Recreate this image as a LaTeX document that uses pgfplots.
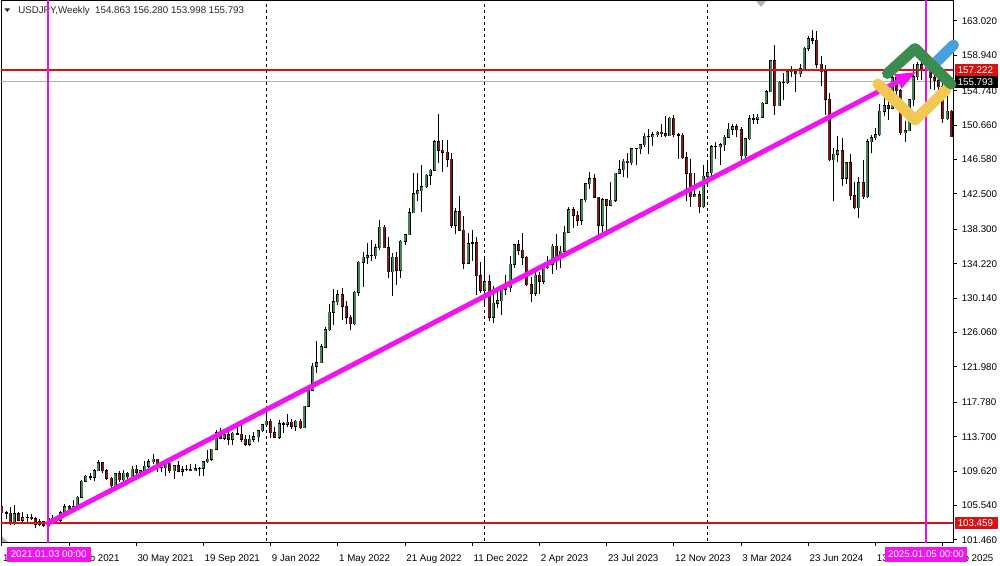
\documentclass[border=0pt]{standalone}
\usepackage{fontspec}
\setmainfont{Liberation Sans}
\usepackage{pgfplots}
\usepackage{pgfplotstable}
\pgfplotsset{compat=1.18}
\usetikzlibrary{arrows.meta}

\definecolor{bull}{RGB}{66,132,84}
\definecolor{bear}{RGB}{122,26,26}
\definecolor{lvl}{RGB}{214,20,20}
\definecolor{vline}{RGB}{225,20,225}
\definecolor{trend}{RGB}{240,20,240}
\definecolor{bid}{RGB}{175,175,175}
\definecolor{lgreen}{RGB}{60,140,78}
\definecolor{lblue}{RGB}{72,160,220}
\definecolor{lyellow}{RGB}{240,200,82}

% weekly USDJPY, k = weeks from 2021.01.03
\pgfplotstableread{
k o h l c
-11 105.40 105.75 104.30 104.70
-10 104.70 104.90 104.00 104.65
-9 104.65 105.35 103.20 103.40
-8 103.40 105.65 103.20 104.60
-7 104.60 104.75 103.70 103.80
-6 103.80 104.75 103.65 104.10
-5 104.10 104.50 103.60 104.15
-4 104.15 104.50 103.80 104.00
-3 104.00 104.20 102.88 103.30
-2 103.30 103.90 103.10 103.60
-1 103.60 103.70 102.95 103.20
0 103.20 104.10 102.60 103.95
1 103.95 104.40 103.50 103.80
2 103.80 104.10 103.30 103.80
3 103.80 104.90 103.50 104.70
4 104.70 105.75 104.60 105.40
5 105.40 105.60 104.40 104.95
6 104.95 106.20 104.90 105.40
7 105.40 106.70 105.20 106.55
8 106.55 108.60 106.50 108.40
9 108.40 109.20 108.30 109.00
10 109.00 109.35 108.60 108.90
11 108.90 109.85 108.40 109.65
12 109.65 110.95 109.60 110.60
13 110.60 110.70 109.40 109.65
14 109.65 109.90 108.60 108.80
15 108.80 108.95 107.50 107.90
16 107.90 109.30 107.50 109.30
17 109.30 109.70 108.35 108.60
18 108.60 109.80 108.35 109.35
19 109.35 109.50 108.55 108.95
20 108.95 110.20 108.70 109.85
21 109.85 110.30 109.20 109.50
22 109.50 109.80 109.20 109.65
23 109.65 110.80 109.60 110.20
24 110.20 111.10 109.70 110.75
25 110.75 111.65 110.45 111.05
26 111.05 111.10 109.50 110.10
27 110.10 110.70 109.55 110.05
28 110.05 110.60 109.05 110.55
29 110.55 110.60 109.35 109.70
30 109.70 110.35 108.70 110.25
31 110.25 110.80 109.50 109.60
32 109.60 110.25 109.10 109.80
33 109.80 110.30 109.60 109.85
34 109.85 110.45 109.60 109.70
35 109.70 110.45 109.60 109.90
36 109.90 110.15 109.10 109.95
37 109.95 110.80 109.10 110.75
38 110.75 112.10 110.60 111.05
39 111.05 112.25 110.80 112.20
40 112.20 114.45 112.10 114.20
41 114.20 114.70 113.40 113.50
42 113.50 114.30 113.30 113.95
43 113.95 114.45 112.70 113.40
44 113.40 114.30 112.70 114.10
45 114.10 114.95 113.90 114.00
46 114.00 115.50 113.10 113.40
47 113.40 113.95 112.55 112.80
48 112.80 113.95 112.55 113.40
49 113.40 114.30 113.10 113.70
50 113.70 114.50 113.10 114.40
51 114.40 115.20 114.30 115.10
52 115.10 116.35 115.00 115.55
53 115.55 115.85 113.50 114.20
54 114.20 114.85 113.50 113.65
55 113.65 115.70 113.45 115.25
56 115.25 115.50 114.15 115.20
57 115.20 116.35 114.85 115.40
58 115.40 115.80 114.60 114.95
59 114.95 115.75 114.40 115.55
60 115.55 115.80 114.65 114.80
61 114.80 117.35 114.80 117.30
62 117.30 119.40 117.30 119.20
63 119.20 122.45 119.10 122.05
64 122.05 125.10 121.30 122.50
65 122.50 124.70 122.40 124.35
66 124.35 126.70 124.30 126.40
67 126.40 129.40 126.30 128.50
68 128.50 131.25 126.95 129.70
69 129.70 131.15 129.35 130.55
70 130.55 131.35 127.50 129.20
71 129.20 129.75 127.05 127.85
72 127.85 128.10 126.35 127.10
73 127.10 130.95 126.90 130.85
74 130.85 134.55 130.40 134.40
75 134.40 135.60 131.50 135.00
76 135.00 136.70 134.25 135.20
77 135.20 137.00 134.50 135.20
78 135.20 136.55 134.75 136.10
79 136.10 139.40 135.90 138.55
80 138.55 138.85 136.50 136.10
81 136.10 137.45 132.50 133.25
82 133.25 135.55 130.40 135.00
83 135.00 135.60 131.75 133.45
84 133.45 137.00 132.55 136.90
85 136.90 137.70 136.40 137.65
86 137.65 140.80 137.65 140.25
87 140.25 144.99 140.20 142.55
88 142.55 144.95 141.65 142.90
89 142.90 145.90 140.35 143.35
90 143.35 144.90 143.25 144.75
91 144.75 145.45 143.55 145.30
92 145.30 148.85 145.30 148.70
93 148.70 151.95 146.20 147.70
94 147.70 148.85 145.10 147.45
95 147.45 148.85 145.70 146.60
96 146.60 147.40 138.50 138.80
97 138.80 140.80 137.70 140.40
98 140.40 142.25 138.05 138.20
99 138.20 139.90 133.60 134.30
100 134.30 137.85 134.15 136.60
101 136.60 138.20 134.60 136.70
102 136.70 137.45 130.55 132.80
103 132.80 134.45 130.80 131.10
104 131.10 134.75 129.50 132.10
105 132.10 132.90 127.45 127.85
106 127.85 131.60 127.20 129.55
107 129.55 131.20 129.00 129.85
108 129.85 131.25 128.10 131.20
109 131.20 132.90 130.50 131.40
110 131.40 135.10 130.90 134.15
111 134.15 136.55 133.75 136.45
112 136.45 137.10 135.25 135.85
113 135.85 137.90 134.10 135.00
114 135.00 135.15 131.55 131.75
115 131.75 132.65 129.65 130.70
116 130.70 133.75 130.40 132.85
117 132.85 133.20 130.65 132.15
118 132.15 134.00 131.80 133.75
119 133.75 135.15 133.55 134.15
120 134.15 136.55 133.00 136.30
121 136.30 137.75 133.50 134.85
122 134.85 136.30 133.75 135.70
123 135.70 138.75 135.50 137.95
124 137.95 140.90 137.85 140.60
125 140.60 140.95 138.45 140.00
126 140.00 140.45 138.75 139.40
127 139.40 141.95 138.80 141.80
128 141.80 143.85 141.60 143.70
129 143.70 145.05 143.10 144.30
130 144.30 144.90 142.05 142.10
131 142.10 142.10 137.25 138.80
132 138.80 142.00 137.65 141.80
133 141.80 141.95 138.05 141.15
134 141.15 143.90 141.10 141.75
135 141.75 145.00 141.50 144.95
136 144.95 146.55 144.85 145.40
137 145.40 146.65 144.55 146.40
138 146.40 147.35 144.45 146.20
139 146.20 147.90 145.90 147.85
140 147.85 148.00 145.90 147.85
141 147.85 148.45 147.30 148.35
142 148.35 149.70 148.10 149.35
143 149.35 150.15 147.30 149.30
144 149.30 149.80 148.15 149.55
145 149.55 150.00 149.20 149.85
146 149.85 150.75 149.30 149.65
147 149.65 151.70 149.20 149.40
148 149.40 151.60 149.40 151.50
149 151.50 151.90 149.20 149.55
150 149.55 149.75 146.65 149.45
151 149.45 149.70 146.65 146.80
152 146.80 147.50 141.70 144.95
153 144.95 146.60 140.95 142.20
154 142.20 144.95 142.10 142.40
155 142.40 142.85 140.25 141.00
156 141.00 145.95 140.80 144.60
157 144.60 146.40 143.40 145.00
158 145.00 148.30 144.40 148.10
159 148.10 148.70 146.65 148.10
160 148.10 148.55 145.90 148.35
161 148.35 149.55 147.60 149.25
162 149.25 150.90 149.20 150.20
163 150.20 150.75 149.55 150.50
164 150.50 150.80 149.20 150.10
165 150.10 150.40 146.50 147.05
166 147.05 149.15 146.50 149.05
167 149.05 151.85 148.90 151.40
168 151.40 151.95 150.80 151.35
169 151.35 151.95 150.80 151.60
170 151.60 153.40 151.60 153.25
171 153.25 154.80 153.15 154.65
172 154.65 158.45 154.55 158.30
173 158.30 160.20 151.85 152.95
174 152.95 155.95 152.95 155.75
175 155.75 156.80 153.60 155.70
176 155.70 157.20 155.50 157.00
177 157.00 157.70 156.35 157.30
178 157.30 157.30 154.55 156.75
179 156.75 157.95 156.40 157.35
180 157.35 159.90 157.15 159.80
181 159.80 161.25 159.40 160.90
182 160.90 161.95 160.25 160.75
183 160.75 161.80 157.40 157.90
184 157.90 158.85 155.35 157.00
185 157.00 157.85 151.90 153.75
186 153.75 154.45 146.40 146.55
187 146.55 147.90 141.70 147.20
188 147.20 149.40 146.25 147.60
189 147.60 149.15 143.45 144.35
190 144.35 146.25 143.65 146.20
191 146.20 147.20 141.75 142.30
192 142.30 143.95 140.70 140.85
193 140.85 144.50 139.60 143.85
194 143.85 146.50 141.90 142.20
195 142.20 149.00 142.00 148.70
196 148.70 149.55 147.35 149.15
197 149.15 150.30 148.85 149.50
198 149.50 153.15 149.35 152.30
199 152.30 153.90 151.70 152.95
200 152.95 154.70 151.30 152.65
201 152.65 156.75 152.65 156.30
202 156.30 156.75 153.30 154.75
203 154.75 155.00 149.50 149.75
204 149.75 151.20 148.65 150.00
205 150.00 153.70 149.95 153.65
206 153.65 157.95 152.90 156.40
207 156.40 158.10 156.05 157.80
208 157.80 158.10 156.00 157.30
209 157.30 158.90 157.20 157.75
210 157.75 158.45 154.95 156.30
211 156.30 156.75 154.85 155.95
212 155.95 156.25 153.70 155.20
213 155.20 155.90 150.95 151.40
214 151.40 154.80 151.25 152.30
215 152.30 152.45 149.30 149.30
}\ohlc

% pixel coordinates of the 1000x565 picture, y downwards
\tikzset{px/.style={x=0.75pt,y=-0.75pt,shift={(0pt,423.75pt)}}}

\begin{document}
\begin{tikzpicture}[font=\fontsize{7.3}{8.8}\selectfont]
\fill[white] (0,0) rectangle (750pt,423.75pt);

\begin{scope}[px]
  \fill[black!85] (4.5,8.5) -- (10,8.5) -- (7.25,12) -- cycle;
  \node[anchor=base west, inner sep=0pt, black!85] at (18,14)
    {USDJPY,Weekly\ \ 154.863 156.280 153.998 155.793};
  \fill[black!30] (756,1) -- (766,1) -- (761,7) -- cycle;
  \fill[black!30] (1,535) -- (1,542) -- (8,542) -- cycle;
\end{scope}

\begin{axis}[
  at={(0.75pt,17.25pt)}, anchor=south west,
  scale only axis, width=714pt, height=405.75pt,
  xmin=-11.19, xmax=215.42, ymin=101.22, ymax=165.39,
  axis line style={black, line width=0.75pt},
  tick align=outside, major tick length=3pt,
  tick style={black, line width=0.75pt},
  xtick pos=left, ytick pos=right, yticklabel pos=right,
  tick label style={font=\fontsize{7.3}{8.8}\selectfont, inner sep=0pt},
  xtick={-11,5,21,37,53,69,85,101,117,133,149,165,181,197,213},
  xticklabels={18 Oct 2020, 7 Feb 2021, 30 May 2021, 19 Sep 2021, 9 Jan 2022,
    1 May 2022, 21 Aug 2022, 11 Dec 2022, 2 Apr 2023, 23 Jul 2023,
    12 Nov 2023, 3 Mar 2024, 23 Jun 2024, 13 Oct 2024, 2 Feb 2025},
  xticklabel style={anchor=base west, xshift=0.75pt, yshift=-11.25pt},
  ytick={163.02,158.94,154.74,150.66,146.58,142.5,138.3,134.22,130.14,
    126.06,121.98,117.78,113.7,109.62,105.54,101.46},
  yticklabels={163.020,158.940,154.740,150.660,146.580,142.500,138.300,134.220,
    130.140,126.060,121.980,117.780,113.700,109.620,105.540,101.460},
  yticklabel style={anchor=west, xshift=3.4pt},
  clip=true,
  candle/.style={draw=none, mark=none, unbounded coords=discard,
    error bars/.cd, y dir=plus, y explicit, error mark=none},
]
% year separators
\addplot[black, line width=0.75pt, dash pattern=on 2.25pt off 2.25pt] coordinates {(52,90) (52,170)};
\addplot[black, line width=0.75pt, dash pattern=on 2.25pt off 2.25pt] coordinates {(104,90) (104,170)};
\addplot[black, line width=0.75pt, dash pattern=on 2.25pt off 2.25pt] coordinates {(157,90) (157,170)};
% bid line
\addplot[bid, line width=0.75pt] coordinates {(-20,155.793) (230,155.793)};

% wicks
\addplot[candle, error bar style={draw=black, line width=0.75pt}]
  table[x=k, y=l, y error plus expr=\thisrow{h}-\thisrow{l}] {\ohlc};
% body outlines
\addplot[candle, error bar style={draw=black, line width=2.25pt}]
  table[x=k, y expr={min(\thisrow{o},\thisrow{c})-0.06},
    y error plus expr={abs(\thisrow{c}-\thisrow{o})+0.12}] {\ohlc};
% bull bodies
\addplot[candle, error bar style={draw=bull, line width=1.5pt}]
  table[x=k, y expr={(\thisrow{c}-\thisrow{o}>0.1) ? \thisrow{o} : nan},
    y error plus expr={\thisrow{c}-\thisrow{o}}] {\ohlc};
% bear bodies
\addplot[candle, error bar style={draw=bear, line width=1.5pt}]
  table[x=k, y expr={(\thisrow{o}-\thisrow{c}>0.1) ? \thisrow{c} : nan},
    y error plus expr={\thisrow{o}-\thisrow{c}}] {\ohlc};

% levels
\addplot[lvl, line width=1.1pt] coordinates {(-20,157.222) (230,157.222)};
\addplot[lvl, line width=1.1pt] coordinates {(-20,103.459) (230,103.459)};
% time markers
\addplot[vline, line width=1.5pt] coordinates {(0,90) (0,170)};
\addplot[vline, line width=1.5pt] coordinates {(209,90) (209,170)};
% trend line
\addplot[trend, line width=3.75pt, line cap=round, -{Triangle[length=16pt,width=11pt]}]
  coordinates {(0,103.46) (206.8,157.0)};
\end{axis}

\begin{scope}[px]
  % price labels
  \fill[lvl] (955,64) rectangle (998,76);
  \node[anchor=base west, inner sep=0pt, white] at (957.5,73.5) {157.222};
  \fill[black] (955,76) rectangle (998,88);
  \node[anchor=base west, inner sep=0pt, white] at (957.5,85.5) {155.793};
  \fill[lvl] (955,517) rectangle (998,529);
  \node[anchor=base west, inner sep=0pt, white] at (957.5,526.6) {103.459};
  % time labels
  \fill[trend] (7,546.5) rectangle (90.5,562);
  \node[anchor=base, inner sep=0pt, white] at (48.7,557.5) {2021.01.03 00:00};
  \fill[trend] (885,546.5) rectangle (967,562);
  \node[anchor=base, inner sep=0pt, white] at (926,557.5) {2025.01.05 00:00};
  % logo
  \begin{scope}[line width=8.2pt, line cap=round, line join=round]
    \draw[lyellow] (878,84) -- (915,120) -- (946,90);
    \draw[lblue] (931.7,66.7) -- (953.5,45);
    \draw[lgreen] (887.5,73.5) -- (915,48.5) -- (951,84);
  \end{scope}
\end{scope}

\pgfresetboundingbox
\useasboundingbox (0,0) rectangle (750pt,423.75pt);
\end{tikzpicture}
\end{document}
